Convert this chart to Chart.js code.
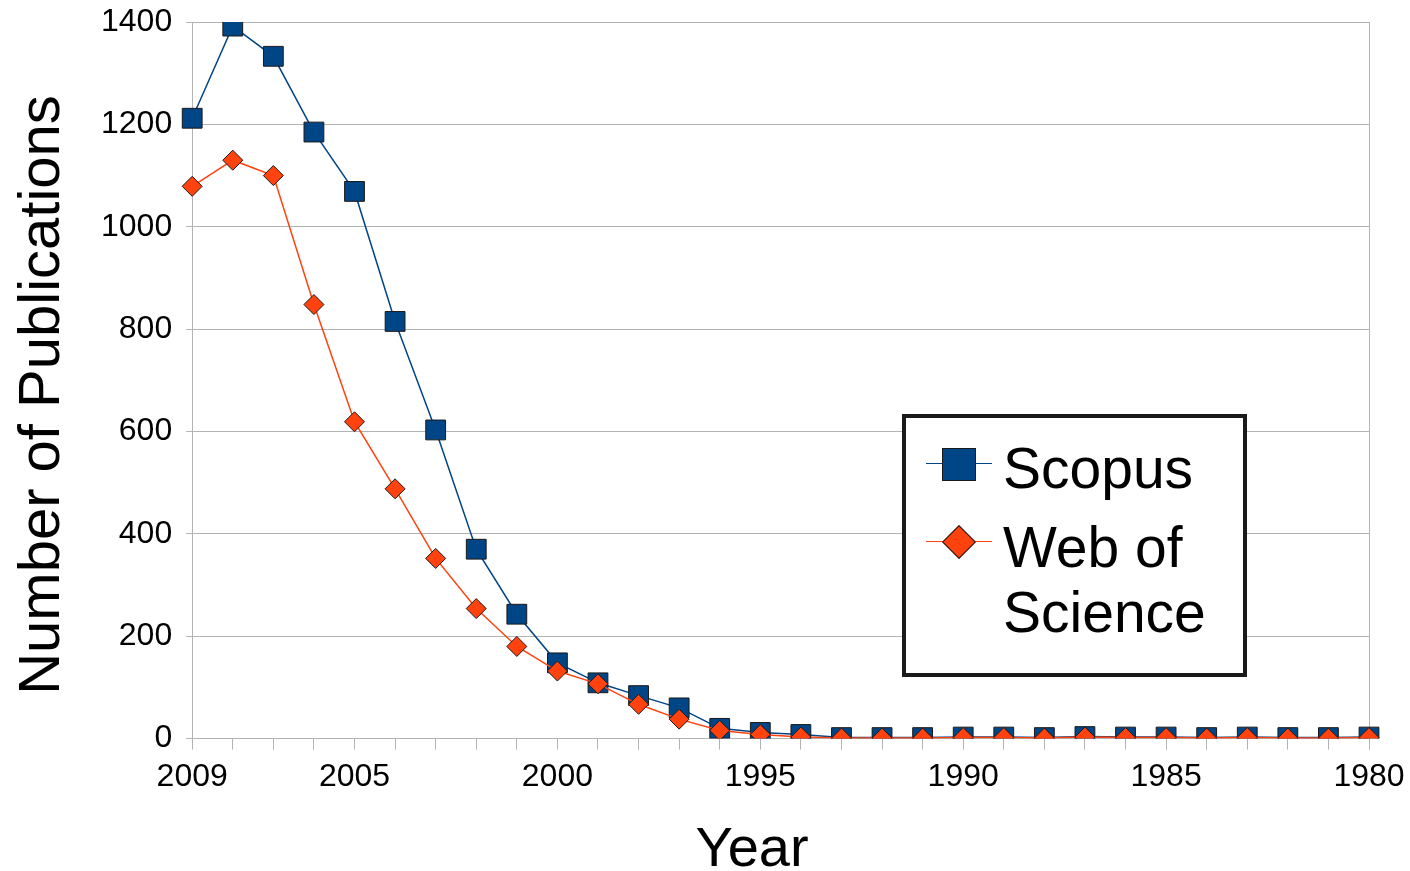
<!DOCTYPE html>
<html>
<head>
<meta charset="utf-8">
<script src="https://cdn.jsdelivr.net/npm/chart.js@4.4.1/dist/chart.umd.min.js"></script>
<style>
  html, body { margin: 0; padding: 0; background: #fff; }
  #wrap { position: relative; width: 1410px; height: 871px; overflow: hidden; }
  #legend {
    position: absolute; left: 902px; top: 414px; width: 345px; height: 263px;
    box-sizing: border-box; border: 4px solid #1a1a1a; background: #fff;
    font-family: "Liberation Sans", Arial, sans-serif; font-size: 57px; color: #000;
  }
  #legend .txt { position: absolute; left: 97px; line-height: 65px; white-space: nowrap; }
  #legend .ln { position: absolute; left: 20px; width: 66px; height: 0; }
  #legend .sq { position: absolute; box-sizing: border-box; border: 1.5px solid #1a1a1a; }
  #xtitle {
    position: absolute; left: 652px; top: 819px; width: 200px; text-align: center;
    font-family: "Liberation Sans", Arial, sans-serif; font-size: 56px; line-height: 56px; color: #000;
  }
  #ytitle {
    position: absolute; left: -311px; top: 366px; width: 700px; height: 58px; text-align: center;
    font-family: "Liberation Sans", Arial, sans-serif; font-size: 58px; line-height: 58px; color: #000;
    transform: rotate(-90deg); white-space: nowrap;
  }
</style>
</head>
<body>
<div id="wrap">
  <canvas id="chart"></canvas>
  <div id="xtitle">Year</div>
  <div id="ytitle">Number of Publications</div>
  <div id="legend">
    <div class="ln" style="top:45px; border-top:1.5px solid #004586;"></div>
    <div class="sq" style="left:36px; top:30px; width:34px; height:33px; background:#004586;"></div>
    <div class="txt" style="top:18px;">Scopus</div>
    <div class="ln" style="top:123px; border-top:1.5px solid #ff420e;"></div>
    <div class="sq" style="left:41px; top:112px; width:24px; height:24px; background:#ff420e; transform:rotate(45deg);"></div>
    <div class="txt" style="top:97px;">Web of<br>Science</div>
  </div>
</div>
<script>
// years run from newest to oldest, as in the original chart
const years = [2009, 2008, 2007, 2006, 2005, 2004, 2003, 2002, 2001, 2000,
               1999, 1998, 1997, 1996, 1995, 1994, 1993, 1992, 1991, 1990,
               1989, 1988, 1987, 1986, 1985, 1984, 1983, 1982, 1981, 1980];
const scopus = [1212, 1392, 1333, 1185, 1069, 815, 603, 370, 243, 148,
                109, 84, 60, 20, 12, 8, 2, 2, 2, 3,
                3, 2, 4, 3, 3, 2, 3, 2, 2, 3];
const webOfScience = [1079, 1130, 1100, 848, 619, 488, 352, 254, 180, 132,
                      107, 67, 38, 16, 8, 3, 1, 1, 1, 2,
                      2, 1, 3, 2, 2, 1, 2, 1, 1, 2];
const yTicks = [0, 200, 400, 600, 800, 1000, 1200, 1400];

const gridGrey = '#b3b3b3';
const font = 'Liberation Sans';

new Chart(document.getElementById('chart'), {
    type: 'line',
    data: {
        labels: years,
        datasets: [
            {
                label: 'Scopus',
                data: scopus,
                borderColor: '#004586',
                backgroundColor: '#004586',
                borderWidth: 1.5,
                pointStyle: 'rect',
                pointRadius: 14,
                pointBorderColor: '#1a1a1a',
                pointBorderWidth: 1,
                tension: 0,
                order: 2
            },
            {
                label: 'Web of Science',
                data: webOfScience,
                borderColor: '#ff420e',
                backgroundColor: '#ff420e',
                borderWidth: 1.5,
                pointStyle: 'rectRot',
                pointRadius: 10,
                pointBorderColor: '#1a1a1a',
                pointBorderWidth: 1,
                tension: 0,
                order: 1
            }
        ]
    },
    options: {
        responsive: true,
        maintainAspectRatio: false,
        animation: false,
        devicePixelRatio: 1,
        layout: { padding: { top: 22, right: 41, bottom: 67, left: 87 } },
        plugins: {
            legend: { display: false },
            tooltip: { enabled: false }
        },
        scales: {
            x: {
                afterFit: (axis) => { axis.paddingRight = 0; },
                grid: {
                    color: (c) => (c.index === 0 || c.index === years.length - 1) ? gridGrey : 'rgba(0,0,0,0)',
                    tickColor: gridGrey,
                    tickLength: 11,
                    lineWidth: 1
                },
                border: { color: gridGrey },
                ticks: {
                    autoSkip: false,
                    maxRotation: 0,
                    color: '#000',
                    padding: 8,
                    font: { family: font, size: 32 },
                    callback: function (val, i) {
                        const y = years[i];
                        return (i === 0 || y % 5 === 0) ? String(y) : '';
                    }
                }
            },
            y: {
                min: 0,
                max: 1400,
                afterBuildTicks: (axis) => { axis.ticks = yTicks.map(v => ({ value: v })); },
                afterFit: (axis) => { axis.paddingTop = 0; },
                grid: { color: gridGrey, tickColor: gridGrey, tickLength: 6 },
                border: { color: gridGrey },
                ticks: {
                    color: '#000',
                    padding: 14,
                    font: { family: font, size: 32 },
                    callback: (v) => String(v)
                }
            }
        }
    }
});
</script>
</body>
</html>
